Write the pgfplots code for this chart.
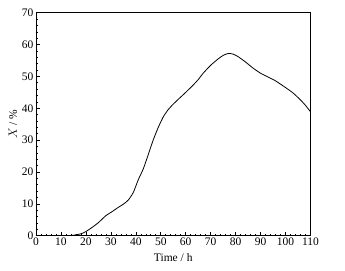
\documentclass[border=0pt]{standalone}
\usepackage{fontspec}
\setmainfont{Liberation Serif}
\usepackage{pgfplots}
\pgfplotsset{compat=1.18}

\begin{document}
\begin{tikzpicture}
\begin{axis}[
    scale only axis,
    width=274.5pt, height=223pt,
    xmin=0, xmax=110, ymin=0, ymax=70,
    xtick={0,10,...,110}, ytick={0,10,...,70},
    minor x tick num=4, minor y tick num=4,
    xtick pos=left, ytick pos=left,
    tick align=inside,
    major tick length=4pt, minor tick length=2.2pt,
    tick style={black, line width=0.6pt},
    axis line style={line width=0.8pt},
    ticklabel style={font=\fontsize{11.5}{13}\selectfont},
    /pgf/number format/assume math mode=true,
    xticklabel style={yshift=1pt},
    yticklabel style={xshift=1pt},
    xlabel={Time / h},
    ylabel={$X$ / \%},
    label style={font=\fontsize{11.5}{13}\selectfont},
    xlabel style={yshift=-1pt},
    ylabel style={yshift=-2pt},
]
\addplot[black, line width=0.8pt, smooth, tension=0.4] coordinates {
(0,0)(5,0)(10,0)(13,0)(15,0.15)(18,0.6)(20,1.3)(23,2.9)(25,4.1)(28,6.3)
(30,7.3)(33,8.9)(35,9.9)(37,11.2)(39,13.6)(41,17.6)(43,21)(45,25.5)
(47,30.1)(49,34)(51,37.3)(53,39.6)(55,41.3)(57,42.8)(60,45)(63,47.3)
(65,49)(67,51)(70,53.5)(73,55.5)(75,56.6)(77,57.2)(79,57)(81,56.2)
(84,54.5)(87,52.6)(90,51)(93,49.8)(96,48.6)(100,46.5)(103,44.8)
(106,42.6)(108,40.9)(110,38.9)
};
\end{axis}
\pgfresetboundingbox
\path (-36pt,-35pt) rectangle (309pt,235.7pt);
\end{tikzpicture}
\end{document}
